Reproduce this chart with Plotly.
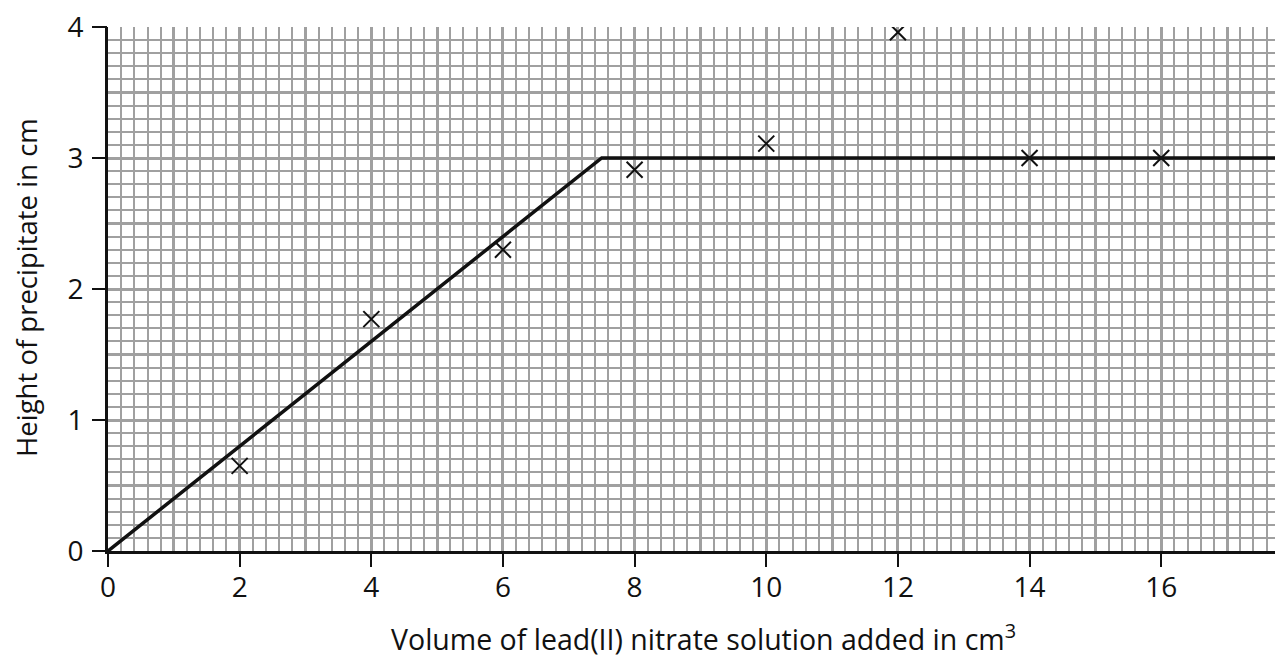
import plotly.graph_objects as go

# Data
volume_points = [2, 4, 6, 8, 10, 12, 14, 16]
height_points = [0.65, 1.77, 2.30, 2.91, 3.11, 3.96, 3.00, 3.00]

fit_x = [0, 7.5, 18]
fit_y = [0, 3.0, 3.0]

x_tick_vals = [0, 2, 4, 6, 8, 10, 12, 14, 16]
y_tick_vals = [0, 1, 2, 3, 4]

x_title = "Volume of lead(II) nitrate solution added in cm<sup>3</sup>"
y_title = "Height of precipitate in cm"

X_RANGE = [0, 17.85]
Y_RANGE = [0, 4]

GRID = "#a0a0a0"
INK = "#111111"
FONT = "Open Sans"

fig = go.Figure()

# line of best fit on the main (grid) subplot
fig.add_trace(go.Scatter(
    x=fit_x, y=fit_y, mode="lines",
    line=dict(color=INK, width=3.5),
    xaxis="x", yaxis="y", showlegend=False, hoverinfo="skip"))

# measured points on the overlay (tick) subplot
fig.add_trace(go.Scatter(
    x=volume_points, y=height_points, mode="markers",
    marker=dict(symbol="x-thin-open", size=16, color=INK,
                line=dict(color=INK, width=2)),
    xaxis="x2", yaxis="y2", showlegend=False))

fig.update_layout(
    width=1283, height=657,
    margin=dict(l=100, r=8, t=19, b=114),
    paper_bgcolor="white", plot_bgcolor="white",
    font=dict(family=FONT, color=INK),
    xaxis=dict(
        range=X_RANGE, tickmode="linear", tick0=0, dtick=1,
        showgrid=True, gridcolor=GRID, gridwidth=2.6,
        minor=dict(tickmode="linear", tick0=0, dtick=0.2, showgrid=True,
                   gridcolor=GRID, gridwidth=1.6),
        showticklabels=False, ticks="", zeroline=False,
        showline=True, linecolor=INK, linewidth=3,
        automargin=False, fixedrange=True),
    yaxis=dict(
        range=Y_RANGE, tickmode="linear", tick0=0, dtick=0.5,
        showgrid=True, gridcolor=GRID, gridwidth=2.6,
        minor=dict(tickmode="linear", tick0=0, dtick=0.1, showgrid=True,
                   gridcolor=GRID, gridwidth=1.6),
        showticklabels=False, ticks="", zeroline=False,
        showline=True, linecolor=INK, linewidth=3.3,
        automargin=False, fixedrange=True),
    xaxis2=dict(
        overlaying="x", anchor="y2", side="bottom", range=X_RANGE,
        tickmode="array", tickvals=x_tick_vals,
        ticks="outside", ticklen=15, tickwidth=1.5, tickcolor=INK,
        ticklabelstandoff=-4, ticklabeloverflow="allow",
        tickfont=dict(size=28, family=FONT, color=INK),
        showgrid=False, zeroline=False, showline=False,
        automargin=False, fixedrange=True),
    yaxis2=dict(
        overlaying="y", anchor="x2", side="left", range=Y_RANGE,
        tickmode="array", tickvals=y_tick_vals,
        ticks="outside", ticklen=15, tickwidth=1.5, tickcolor=INK,
        ticklabelstandoff=3, ticklabeloverflow="allow",
        tickfont=dict(size=28, family=FONT, color=INK),
        showgrid=False, zeroline=False, showline=False,
        automargin=False, fixedrange=True),
    annotations=[
        dict(text=x_title, xref="paper", yref="paper",
             x=0.5064, y=-0.166, xanchor="center", yanchor="middle",
             showarrow=False, font=dict(size=28.5, family=FONT, color=INK)),
        dict(text=y_title, xref="paper", yref="paper", textangle=-90,
             x=-0.0689, y=0.502, xanchor="center", yanchor="middle",
             borderpad=0,
             showarrow=False, font=dict(size=27.5, family=FONT, color=INK)),
    ],
)

fig.write_html("out.html")
